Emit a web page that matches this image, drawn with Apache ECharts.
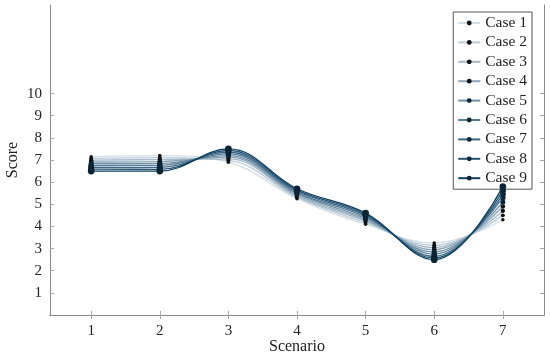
<!DOCTYPE html>
<html><head><meta charset="utf-8">
<script src="https://cdn.jsdelivr.net/npm/echarts@6/dist/echarts.min.js"></script>
<style>html,body{margin:0;padding:0;background:#fff}#c{width:550px;height:358px}</style>
</head><body><div id="c"></div>
<script>
const scenarios = [1, 2, 3, 4, 5, 6, 7];
const caseNames = ['Case 1','Case 2','Case 3','Case 4','Case 5','Case 6','Case 7','Case 8','Case 9'];
const case1 = [7.15, 7.20, 6.90, 5.25, 4.10, 3.25, 4.30];
const case2 = [7.07, 7.11, 6.98, 5.31, 4.17, 3.15, 4.50];
const case3 = [6.99, 7.02, 7.05, 5.36, 4.24, 3.05, 4.70];
const case4 = [6.91, 6.93, 7.13, 5.42, 4.30, 2.95, 4.90];
const case5 = [6.83, 6.85, 7.20, 5.48, 4.36, 2.85, 5.10];
const case6 = [6.75, 6.76, 7.28, 5.53, 4.43, 2.75, 5.30];
const case7 = [6.67, 6.67, 7.35, 5.59, 4.49, 2.65, 5.45];
const case8 = [6.59, 6.58, 7.43, 5.64, 4.55, 2.57, 5.62];
const case9 = [6.50, 6.50, 7.50, 5.70, 4.60, 2.50, 5.80];
const caseValues = [case1, case2, case3, case4, case5, case6, case7, case8, case9];
const yTicks = [1, 2, 3, 4, 5, 6, 7, 8, 9, 10];
const xTicks = [1, 2, 3, 4, 5, 6, 7];

const lineColors = ['#d3dde6','#bccbd8','#a3b8c8','#8aa4b8','#7090a7','#557b96','#3b6684','#235272','#0d3f5e'];
const FONT = 'Liberation Serif';

const series = caseNames.map((n, i) => ({
  name: n, type: 'line', smooth: 0.4,
  data: scenarios.map((x, j) => [x, caseValues[i][j]]),
  symbol: 'circle', symbolSize: 3.5 + i * 0.4,
  lineStyle: {color: lineColors[i], width: 1.3},
  itemStyle: {color: i < 4 ? '#111' : '#0b2537', borderWidth: 0},
  emphasis: {disabled: true},
  z: 2 + i
}));

const axisLine = {show: true, lineStyle: {color: '#888', width: 1}};
const chart = echarts.init(document.getElementById('c'), null, {renderer: 'canvas'});
chart.setOption({
  animation: false,
  grid: {left: 50, right: 6, top: 5, bottom: 43, outerBoundsMode: 'none', containLabel: false},
  legend: {
    right: 18, top: 12, orient: 'vertical', align: 'left',
    itemWidth: 22, itemHeight: 6, itemGap: 3.4,
    padding: [3, 5, 3, 4],
    borderColor: '#555', borderWidth: 1, backgroundColor: '#fff',
    textStyle: {fontFamily: FONT, fontSize: 15.5, color: '#222'},
    data: caseNames
  },
  xAxis: [{
    type: 'value', min: 0.4, max: 7.6, position: 'bottom',
    name: 'Scenario', nameLocation: 'middle', nameGap: 24, nameMoveOverlap: false,
    nameTextStyle: {fontFamily: FONT, fontSize: 16, color: '#222'},
    axisLine: axisLine,
    axisTick: {show: true, inside: true, length: 4, customValues: xTicks, lineStyle: {color: '#aaa'}},
    axisLabel: {customValues: xTicks, fontFamily: FONT, fontSize: 15, color: '#222', margin: 9},
    splitLine: {show: false}
  }, {
    type: 'value', min: 0.4, max: 7.6, position: 'top',
    axisLine: axisLine,
    axisTick: {show: true, inside: true, length: 4, customValues: xTicks, lineStyle: {color: '#aaa'}},
    axisLabel: {show: false}, splitLine: {show: false}
  }],
  yAxis: [{
    type: 'value', min: 0, max: 14, position: 'left',
    name: 'Score', nameLocation: 'middle', nameGap: 29, nameMoveOverlap: false,
    nameTextStyle: {fontFamily: FONT, fontSize: 16, color: '#222'},
    axisLine: axisLine,
    axisTick: {show: true, inside: true, length: 4, customValues: yTicks, lineStyle: {color: '#aaa'}},
    axisLabel: {customValues: yTicks, fontFamily: FONT, fontSize: 15, color: '#222', margin: 8},
    splitLine: {show: false}
  }, {
    type: 'value', min: 0, max: 14, position: 'right',
    axisLine: axisLine,
    axisTick: {show: true, inside: true, length: 4, customValues: yTicks, lineStyle: {color: '#aaa'}},
    axisLabel: {show: false}, splitLine: {show: false}
  }],
  series: series
});
</script></body></html>
